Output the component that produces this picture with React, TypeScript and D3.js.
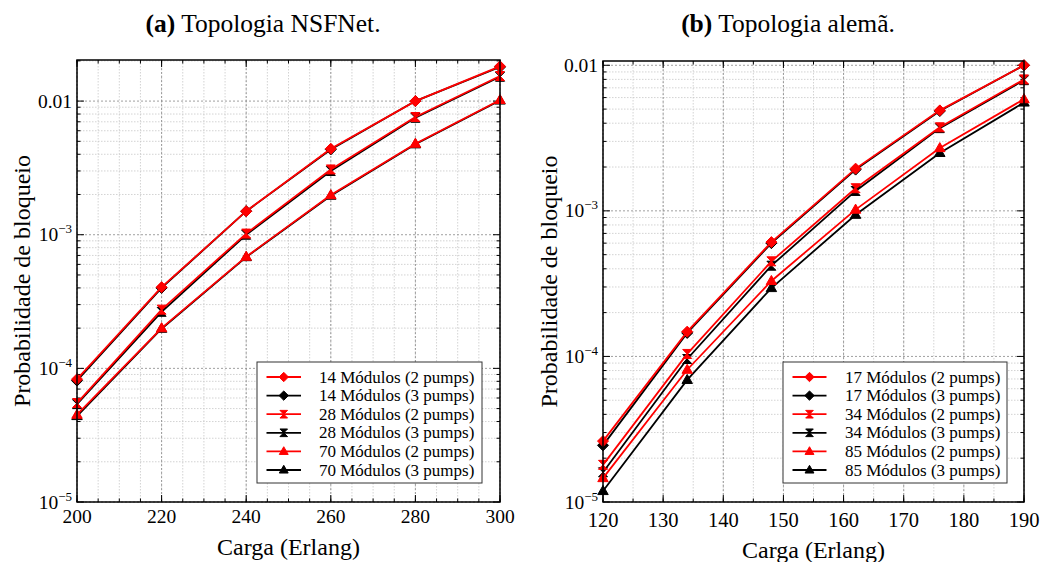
import React from "react";
import * as d3 from "d3";

// ---------- data ----------
const leftX = [200, 220, 240, 260, 280, 300];
const left14_2 = [8.3e-5, 4.05e-4, 1.5e-3, 4.4e-3, 1.0e-2, 1.82e-2];
const left14_3 = [8.1e-5, 4.0e-4, 1.5e-3, 4.35e-3, 1.0e-2, 1.8e-2];
const left28_2 = [5.5e-5, 2.75e-4, 1.02e-3, 3.08e-3, 7.6e-3, 1.54e-2];
const left28_3 = [5.4e-5, 2.65e-4, 1.0e-3, 3.0e-3, 7.5e-3, 1.52e-2];
const left70_2 = [4.5e-5, 2.0e-4, 6.85e-4, 1.98e-3, 4.8e-3, 1.02e-2];
const left70_3 = [4.4e-5, 1.98e-4, 6.8e-4, 1.96e-3, 4.75e-3, 1.01e-2];

const rightX = [120, 134, 148, 162, 176, 190];
const right17_2 = [2.62e-5, 1.48e-4, 6.1e-4, 1.95e-3, 4.9e-3, 1.0e-2];
const right17_3 = [2.45e-5, 1.45e-4, 6.0e-4, 1.92e-3, 4.85e-3, 1.0e-2];
const right34_2 = [1.8e-5, 1.04e-4, 4.5e-4, 1.43e-3, 3.75e-3, 8.0e-3];
const right34_3 = [1.6e-5, 9.6e-5, 4.2e-4, 1.37e-3, 3.7e-3, 7.9e-3];
const right85_2 = [1.46e-5, 8.1e-5, 3.3e-4, 1.02e-3, 2.7e-3, 5.85e-3];
const right85_3 = [1.19e-5, 6.9e-5, 2.95e-4, 9.4e-4, 2.5e-3, 5.55e-3];

const leftLabels = [
  "14 Módulos (2 pumps)", "14 Módulos (3 pumps)",
  "28 Módulos (2 pumps)", "28 Módulos (3 pumps)",
  "70 Módulos (2 pumps)", "70 Módulos (3 pumps)",
];
const rightLabels = [
  "17 Módulos (2 pumps)", "17 Módulos (3 pumps)",
  "34 Módulos (2 pumps)", "34 Módulos (3 pumps)",
  "85 Módulos (2 pumps)", "85 Módulos (3 pumps)",
];
const markerKinds = ["diamond", "diamond", "hourglass", "hourglass", "triangle", "triangle"];
const seriesColors = ["#ff0000", "#000000", "#ff0000", "#000000", "#ff0000", "#000000"];

const leftXTicks = [200, 220, 240, 260, 280, 300];
const rightXTicks = [120, 130, 140, 150, 160, 170, 180, 190];
const yTicks = [1e-5, 1e-4, 1e-3, 1e-2];

const FONT = "Liberation Serif";
const tstyle = { fontFamily: FONT };

function markerPath(kind: string, r: number) {
  if (kind === "diamond") return `M0,${-r}L${r},0L0,${r}L${-r},0Z`;
  if (kind === "hourglass") return `M${-r},${-r}H${r}L${-r},${r}H${r}Z`;
  const h = r;
  return `M0,${-h}L${h * 0.95},${h * 0.65}L${-h * 0.95},${h * 0.65}Z`;
}
function markerSize(kind: string) {
  if (kind === "diamond") return 5.5;
  if (kind === "hourglass") return 4.5;
  return 5.5;
}

function YTickLabel({ v, x, y }: { v: number; x: number; y: number }) {
  if (v === 1e-2) {
    return (
      <text x={x} y={y + 6.5} textAnchor="end" fontSize={19.5} style={tstyle}>0.01</text>
    );
  }
  const e = Math.round(Math.log10(v));
  return (
    <text x={x} y={y + 6.5} textAnchor="end" fontSize={19.5} style={tstyle}>
      10<tspan fontSize={13} dy={-8}>{"\u2212" + Math.abs(e)}</tspan>
    </text>
  );
}

type PanelProps = {
  left: number; right: number; top: number; bottom: number;
  xDomain: [number, number]; yTop: number;
  xs: number[]; series: number[][]; labels: string[];
  xTicks: number[]; xMinorStep: number;
  title: string; titlePrefix: string; titleX: number;
  xLabelY: number; xTickY: number; yLabelX: number; tickFont: number;
  legend: { x0: number; y0: number; x1: number; y1: number; lineX0: number; lineX1: number; textX: number; rowY0: number; rowDy: number };
};

function Panel(p: PanelProps) {
  const x = d3.scaleLinear().domain(p.xDomain).range([p.left, p.right]);
  const y = d3.scaleLog().domain([1e-5, p.yTop]).range([p.bottom, p.top]);
  const minorX = d3.range(p.xDomain[0], p.xDomain[1] + 0.001, p.xMinorStep);
  const minorY: number[] = [];
  for (let e = -5; e <= -2; e++) {
    for (let k = 2; k <= 9; k++) {
      const v = k * Math.pow(10, e);
      if (v <= p.yTop) minorY.push(v);
    }
  }
  const line = d3.line<number>().x((_, i) => x(p.xs[i])).y((d) => y(d));
  const order = [1, 3, 5, 0, 2, 4];
  return (
    <g>
      {minorX.map((v) => (
        <line key={"mx" + v} x1={x(v)} x2={x(v)} y1={p.top} y2={p.bottom} stroke="#c8c8c8" strokeWidth={0.8} strokeDasharray="1.5,1.5" />
      ))}
      {minorY.map((v) => (
        <line key={"my" + v} x1={p.left} x2={p.right} y1={y(v)} y2={y(v)} stroke="#c8c8c8" strokeWidth={0.8} strokeDasharray="1.5,1.5" />
      ))}
      {p.xTicks.map((v) => (
        <line key={"gx" + v} x1={x(v)} x2={x(v)} y1={p.top} y2={p.bottom} stroke="#888" strokeWidth={0.8} strokeDasharray="2,2" />
      ))}
      {yTicks.map((v) => (
        <line key={"gy" + v} x1={p.left} x2={p.right} y1={y(v)} y2={y(v)} stroke="#888" strokeWidth={0.8} strokeDasharray="2,2" />
      ))}
      {minorX.map((v) => (
        <g key={"tmx" + v}>
          <line x1={x(v)} x2={x(v)} y1={p.bottom} y2={p.bottom - 3.5} stroke="#000" />
          <line x1={x(v)} x2={x(v)} y1={p.top} y2={p.top + 3.5} stroke="#000" />
        </g>
      ))}
      {p.xTicks.map((v) => (
        <g key={"tx" + v}>
          <line x1={x(v)} x2={x(v)} y1={p.bottom} y2={p.bottom - 7} stroke="#000" />
          <line x1={x(v)} x2={x(v)} y1={p.top} y2={p.top + 7} stroke="#000" />
          <text x={x(v)} y={p.xTickY} textAnchor="middle" fontSize={p.tickFont} style={tstyle}>{v}</text>
        </g>
      ))}
      {minorY.map((v) => (
        <g key={"tmy" + v}>
          <line x1={p.left} x2={p.left + 3.5} y1={y(v)} y2={y(v)} stroke="#000" />
          <line x1={p.right} x2={p.right - 3.5} y1={y(v)} y2={y(v)} stroke="#000" />
        </g>
      ))}
      {yTicks.map((v) => (
        <g key={"ty" + v}>
          <line x1={p.left} x2={p.left + 7} y1={y(v)} y2={y(v)} stroke="#000" />
          <line x1={p.right} x2={p.right - 7} y1={y(v)} y2={y(v)} stroke="#000" />
          <YTickLabel v={v} x={p.left - 5} y={y(v)} />
        </g>
      ))}
      <g>
        {order.map((si) => (
          <g key={"s" + si}>
            <path d={line(p.series[si]) || ""} fill="none" stroke={seriesColors[si]} strokeWidth={1.8} />
            {p.series[si].map((v, i) => (
              <path key={i} transform={`translate(${x(p.xs[i])},${y(v)})`} d={markerPath(markerKinds[si], markerSize(markerKinds[si]))} fill={seriesColors[si]} stroke={seriesColors[si]} strokeWidth={1} />
            ))}
          </g>
        ))}
      </g>
      <rect x={p.left} y={p.top} width={p.right - p.left} height={p.bottom - p.top} fill="none" stroke="#000" strokeWidth={1.5} />
      <rect x={p.legend.x0} y={p.legend.y0} width={p.legend.x1 - p.legend.x0} height={p.legend.y1 - p.legend.y0} fill="#fff" stroke="#333" strokeWidth={1} />
      {p.labels.map((lab, i) => {
        const ly = p.legend.rowY0 + i * p.legend.rowDy;
        const mx = (p.legend.lineX0 + p.legend.lineX1) / 2;
        return (
          <g key={"l" + i}>
            <line x1={p.legend.lineX0} x2={p.legend.lineX1} y1={ly} y2={ly} stroke={seriesColors[i]} strokeWidth={1.8} />
            <path transform={`translate(${mx},${ly})`} d={markerPath(markerKinds[i], markerSize(markerKinds[i]) * 0.85)} fill={seriesColors[i]} stroke={seriesColors[i]} />
            <text x={p.legend.textX} y={ly + 5.5} fontSize={17} style={tstyle}>{lab}</text>
          </g>
        );
      })}
      <text x={p.titleX} y={32} textAnchor="middle" fontSize={25.5} style={tstyle}>
        <tspan fontWeight="bold">{p.titlePrefix}</tspan>{p.title}
      </text>
      <text x={(p.left + p.right) / 2} y={p.xLabelY} textAnchor="middle" fontSize={24} style={tstyle}>Carga (Erlang)</text>
      <text transform={`translate(${p.yLabelX},${(p.top + p.bottom) / 2}) rotate(-90)`} textAnchor="middle" fontSize={24} style={tstyle}>Probabilidade de bloqueio</text>
    </g>
  );
}

export default function App() {
  return (
    <svg width={1046} height={562} style={{ position: "absolute", left: 0, top: 0, background: "#fff" }}>
      <rect width={1046} height={562} fill="#fff" />
      <Panel
        left={77} right={500} top={60} bottom={502}
        xDomain={[200, 300]} yTop={0.0203}
        xs={leftX}
        series={[left14_2, left14_3, left28_2, left28_3, left70_2, left70_3]}
        labels={leftLabels}
        xTicks={leftXTicks} xMinorStep={5} tickFont={19.5}
        titlePrefix="(a)" title=" Topologia NSFNet." titleX={263}
        xLabelY={555} xTickY={523} yLabelX={30}
        legend={{ x0: 257, y0: 362, x1: 482, y1: 483, lineX0: 266.5, lineX1: 301, textX: 319, rowY0: 377, rowDy: 18.6 }}
      />
      <Panel
        left={603} right={1024} top={61} bottom={502}
        xDomain={[120, 190]} yTop={0.0107}
        xs={rightX}
        series={[right17_2, right17_3, right34_2, right34_3, right85_2, right85_3]}
        labels={rightLabels}
        xTicks={rightXTicks} xMinorStep={5} tickFont={20.5}
        titlePrefix="(b)" title=" Topologia alemã." titleX={788}
        xLabelY={558} xTickY={527} yLabelX={557}
        legend={{ x0: 783, y0: 362, x1: 1007, y1: 483, lineX0: 792.5, lineX1: 826.5, textX: 845, rowY0: 377, rowDy: 18.6 }}
      />
    </svg>
  );
}
